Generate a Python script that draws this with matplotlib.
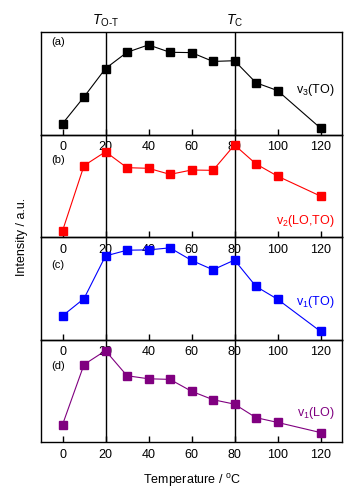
import numpy as np
from matplotlib import pyplot as plt

plt.rcParams['font.family'] = ['Liberation Sans', 'DejaVu Sans']
plt.rcParams['mathtext.fontset'] = 'custom'
plt.rcParams['mathtext.rm'] = 'Liberation Sans'
plt.rcParams['mathtext.it'] = 'Liberation Sans:italic'

temps = [0, 10, 20, 30, 40, 50, 60, 70, 80, 90, 100, 120]
# relative intensities (arbitrary units)
v3_TO = [10.7, 37, 65, 81, 88.3, 81, 80.7, 72, 72.7, 51, 43.3, 6.3]
v2_LOTO = [6, 70.3, 84, 68.3, 67.7, 61.7, 66, 65.7, 90.7, 72, 60, 40.3]
v1_TO = [23.3, 40.3, 82.3, 88, 88.3, 90.3, 78, 68.7, 78.3, 52.3, 39.7, 8]
v1_LO = [17, 76.3, 90, 65.3, 62.3, 61.7, 50, 41.7, 37.3, 24, 19.3, 9.3]

series = [v3_TO, v2_LOTO, v1_TO, v1_LO]
colors = ['black', '#ff0000', '#0000ff', '#800080']
panel_tags = ['(a)', '(b)', '(c)', '(d)']
names = ['v$_3$(TO)', 'v$_2$(LO,TO)', 'v$_1$(TO)', 'v$_1$(LO)']
name_y = [0.43, 0.16, 0.37, 0.28]
tag_y = [0.90, 0.75, 0.73, 0.74]
xticks = [0, 20, 40, 60, 80, 100, 120]

W, H = 364, 496
fig = plt.figure(figsize=(W / 100, H / 100), dpi=100)

left, right = 41, 342
top, bottom = 32, 442
ph = (bottom - top) / 4.0

axes = []
for i in range(4):
    y0 = top + ph * (i + 1)
    ax = fig.add_axes([left / W, 1 - y0 / H, (right - left) / W, ph / H])
    ax.patch.set_visible(False)
    ax.plot(temps, series[i], '-s', color=colors[i], lw=0.8, ms=5.5,
            mec=colors[i], mfc=colors[i], zorder=3)
    ax.axvline(20, color='black', lw=1)
    ax.axvline(80, color='black', lw=1)
    ax.set_xlim(-10, 130)
    ax.set_ylim(0, 101)
    ax.set_yticks([])
    ax.set_xticks(xticks)
    ax.tick_params(axis='x', direction='in', length=4, width=1, pad=5,
                   labelsize=9)
    for s in ax.spines.values():
        s.set_linewidth(1)
    ax.text(0.035, tag_y[i], panel_tags[i], transform=ax.transAxes,
            fontsize=8, va='center', ha='left')
    ax.text(0.975, name_y[i], names[i], transform=ax.transAxes, fontsize=9,
            color=colors[i], ha='right', va='center')
    axes.append(ax)

axes[0].text(20, 104, '$T_{\\rm O‐T}$', ha='center', va='bottom', fontsize=10)
axes[0].text(80, 104, '$T_{\\rm C}$', ha='center', va='bottom', fontsize=10)

fig.text(22 / W, 1 - 237 / H, 'Intensity / a.u.', rotation=90,
         ha='center', va='center', fontsize=9)
fig.text((left + right) / 2 / W, 1 - 480 / H, 'Temperature / $^{\\rm o}$C',
         ha='center', va='center', fontsize=9)

fig.savefig('out.png', dpi=100)
